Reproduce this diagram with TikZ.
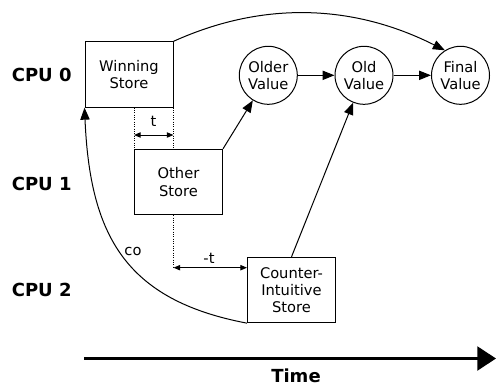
\documentclass[tikz,border=0pt]{standalone}
\usepackage{fontspec}
\setmainfont{DejaVu Sans}
\usetikzlibrary{arrows.meta}
\begin{document}
\begin{tikzpicture}[x=0.75pt,y=-0.75pt,
  every node/.style={font=\fontsize{11pt}{13pt}\selectfont},
  storebox/.style={draw,line width=0.75pt,minimum width=66pt,minimum height=49pt,align=center,inner sep=1pt},
  valcirc/.style={draw,circle,line width=0.75pt,minimum size=43.5pt,align=center,inner sep=0pt},
  cpulabel/.style={font=\fontsize{13.5pt}{15pt}\selectfont\bfseries},
  conn/.style={line width=0.75pt,-{Triangle[length=9pt,width=7pt]}},
  dimarrow/.style={line width=0.75pt,{Triangle[length=5pt,width=4pt]}-{Triangle[length=5pt,width=4pt]}},
  dotline/.style={line width=0.75pt,densely dotted}]
\useasboundingbox (0,0) rectangle (496,386);
\node[cpulabel] (c0) at (41.7,75) {CPU 0};
\node[cpulabel] (c1) at (41.7,183.5) {CPU 1};
\node[cpulabel] (c2) at (41.7,290) {CPU 2};
\node[storebox] (W) at (129,74.5) {Winning\\Store};
\node[storebox] (OS) at (178.5,182) {Other\\Store};
\node[storebox] (CI) at (291.5,290) {Counter-\\Intuitive\\Store};
\node[valcirc] (O1) at (268.3,75.3) {Older\\Value};
\node[valcirc] (O2) at (364,75.3) {Old\\Value};
\node[valcirc] (F) at (460.5,75.3) {Final\\Value};
% time axis
\coordinate (ts) at (84,358.5);
\coordinate (te) at (496,358.5);
\draw[line width=1.6pt,-{Triangle[length=14pt,width=18pt]}] (ts) -- (te);
\node[cpulabel] (time) at (296,376) {Time};
% connectors
\draw[conn] (O1) -- (O2);
\draw[conn] (O2) -- (F);
\draw[conn] (OS.north east) -- (O1);
\draw[conn] (CI.north) -- (O2);
\draw[conn] (W.north east) .. controls (265,0) and (355,5) .. (F.122);
\draw[conn] (CI.south west) .. controls (125,300) and (90,235) .. (W.south west);
\node (co) at (133,251) {co};
% dotted guides
\coordinate (d1t) at (OS.north west |- W.south);
\draw[dotline] (d1t) -- (OS.north west);
\coordinate (d2b) at (W.south east |- OS.north);
\draw[dotline] (W.south east) -- (d2b);
\coordinate (ta) at (OS.north west |- 0,135);
\coordinate (tb) at (W.south east |- 0,135);
\draw[dimarrow] (ta) -- (tb);
\node (tl) at (153.5,121) {t};
\coordinate (os3) at (W.south east |- OS.south);
\coordinate (mt) at (W.south east |- 0,267.7);
\coordinate (mte) at (CI.west |- 0,267.7);
\draw[dotline] (os3) -- (mt);
\draw[dimarrow] (mt) -- (mte);
\node (mtl) at (209,258) {-t};
\end{tikzpicture}
\end{document}
